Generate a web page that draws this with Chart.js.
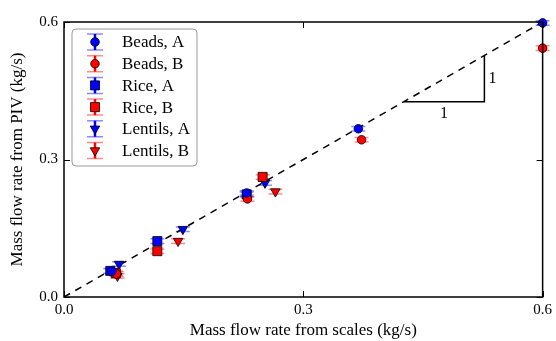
<!DOCTYPE html>
<html>
<head>
<meta charset="utf-8">
<script src="https://cdn.jsdelivr.net/npm/chart.js@4.4.0/dist/chart.umd.min.js"></script>
<style>
  html, body { margin: 0; padding: 0; background: #fff; }
  #wrap { width: 556px; height: 341px; }
</style>
</head>
<body>
<div id="wrap"><canvas id="flowChart" width="556" height="341"></canvas></div>
<script>
const beadsA = [[0.060, 0.056], [0.229, 0.227], [0.369, 0.367], [0.600, 0.598]];
const beadsB = [[0.066, 0.050], [0.230, 0.214], [0.373, 0.343], [0.600, 0.543]];
const riceA = [[0.058, 0.057], [0.117, 0.122], [0.229, 0.224]];
const riceB = [[0.065, 0.052], [0.117, 0.100], [0.249, 0.262]];
const lentilsA = [[0.069, 0.072], [0.149, 0.148], [0.252, 0.249]];
const lentilsB = [[0.067, 0.046], [0.143, 0.122], [0.265, 0.230]];
const yErr = 0.005;

// 1:1 reference line and slope triangle
const diagonal = [0, 0.6];
const slopeTri = [[0.426, 0.426], [0.527, 0.426], [0.527, 0.527]];
const slopeLabels = ['1', '1'];

const tickValues = [0, 0.3, 0.6];
const FONT = "'Liberation Serif', 'DejaVu Serif', serif";
const BLUE = '#0000ff';
const RED = '#ff0000';

function toPoints(arr) {
  return arr.map(p => ({ x: p[0], y: p[1] }));
}

function series(label, arr, color, shape, radius, rotation) {
  return {
    label: label,
    data: toPoints(arr),
    showLine: false,
    backgroundColor: color,
    borderColor: '#000',
    borderWidth: 0.8,
    pointStyle: shape,
    pointRadius: radius,
    pointRotation: rotation || 0,
    mainColor: color,
    errColor: color === BLUE ? 'rgba(0,0,255,0.45)' : 'rgba(255,0,0,0.45)'
  };
}

const dataSets = [
  series('Beads, A', beadsA, BLUE, 'circle', 4.3),
  series('Beads, B', beadsB, RED, 'circle', 4.3),
  series('Rice, A', riceA, BLUE, 'rect', 6.4),
  series('Rice, B', riceB, RED, 'rect', 6.4),
  series('Lentils, A', lentilsA, BLUE, 'triangle', 5.5, 180),
  series('Lentils, B', lentilsB, RED, 'triangle', 5.5, 180)
];

// Draw the error bars under the markers
const errorBars = {
  id: 'errorBars',
  beforeDatasetsDraw(chart) {
    const ctx = chart.ctx;
    const xs = chart.scales.x, ys = chart.scales.y;
    ctx.save();
    ctx.lineWidth = 1.5;
    chart.data.datasets.forEach(ds => {
      if (!ds.errColor) return;
      ctx.strokeStyle = ds.errColor;
      ds.data.forEach(p => {
        const px = xs.getPixelForValue(p.x);
        const top = ys.getPixelForValue(p.y + yErr);
        const bot = ys.getPixelForValue(p.y - yErr);
        ctx.beginPath();
        ctx.moveTo(px, top); ctx.lineTo(px, bot);
        ctx.moveTo(px - 7, top); ctx.lineTo(px + 7, top);
        ctx.moveTo(px - 7, bot); ctx.lineTo(px + 7, bot);
        ctx.stroke();
      });
    });
    ctx.restore();
  }
};

// Frame, inward ticks, slope labels and the boxed legend
const decorations = {
  id: 'decorations',
  afterDraw(chart) {
    const ctx = chart.ctx;
    const a = chart.chartArea;
    const xs = chart.scales.x, ys = chart.scales.y;
    ctx.save();
    ctx.strokeStyle = '#000';
    ctx.lineWidth = 1.5;
    ctx.strokeRect(a.left, a.top, a.right - a.left, a.bottom - a.top);
    ctx.lineWidth = 1;
    tickValues.forEach(v => {
      const px = Math.round(xs.getPixelForValue(v)) + 0.5;
      const py = Math.round(ys.getPixelForValue(v)) + 0.5;
      ctx.beginPath();
      ctx.moveTo(px, a.bottom); ctx.lineTo(px, a.bottom - 6);
      ctx.moveTo(px, a.top); ctx.lineTo(px, a.top + 6);
      ctx.moveTo(a.left, py); ctx.lineTo(a.left + 6, py);
      ctx.moveTo(a.right, py); ctx.lineTo(a.right - 6, py);
      ctx.stroke();
    });

    // slope labels
    ctx.fillStyle = '#000';
    ctx.font = '16px ' + FONT;
    ctx.textAlign = 'center';
    ctx.textBaseline = 'middle';
    const midX = (slopeTri[0][0] + slopeTri[1][0]) / 2;
    ctx.fillText(slopeLabels[0], xs.getPixelForValue(midX), ys.getPixelForValue(slopeTri[0][1]) + 12);
    const midY = (slopeTri[1][1] + slopeTri[2][1]) / 2;
    ctx.textAlign = 'left';
    ctx.fillText(slopeLabels[1], xs.getPixelForValue(slopeTri[1][0]) + 4, ys.getPixelForValue(midY));

    // legend box
    const bx = a.left + 8, by = a.top + 7, bw = 125, bh = 137;
    ctx.beginPath();
    ctx.roundRect(bx, by, bw, bh, 4);
    ctx.fillStyle = '#fff';
    ctx.fill();
    ctx.strokeStyle = '#999';
    ctx.lineWidth = 1;
    ctx.stroke();
    const entries = chart.data.datasets.filter(ds => ds.errColor);
    entries.forEach((ds, i) => {
      const cy = by + 13 + i * 21.7;
      const mx = bx + 23;
      ctx.strokeStyle = ds.errColor;
      ctx.lineWidth = 1.5;
      ctx.beginPath();
      ctx.moveTo(mx - 8, cy - 8); ctx.lineTo(mx + 8, cy - 8);
      ctx.moveTo(mx - 8, cy + 8); ctx.lineTo(mx + 8, cy + 8);
      ctx.stroke();
      ctx.strokeStyle = ds.mainColor;
      ctx.lineWidth = 2.5;
      ctx.beginPath();
      ctx.moveTo(mx, cy - 8); ctx.lineTo(mx, cy + 8);
      ctx.stroke();
      ctx.fillStyle = ds.backgroundColor;
      ctx.strokeStyle = '#000';
      ctx.lineWidth = 0.8;
      Chart.helpers.drawPoint(ctx, {
        pointStyle: ds.pointStyle,
        rotation: ds.pointRotation,
        radius: ds.pointRadius,
        borderWidth: 0.8
      }, mx, cy);
      ctx.fillStyle = '#000';
      ctx.font = '17px ' + FONT;
      ctx.textAlign = 'left';
      ctx.textBaseline = 'middle';
      ctx.fillText(ds.label, bx + 50, cy + 1);
    });
    ctx.restore();
  }
};

const lineSets = [
  {
    label: 'diagonal',
    data: diagonal.map(v => ({ x: v, y: v })),
    showLine: true,
    borderColor: '#000',
    borderWidth: 1.5,
    borderDash: [7, 6],
    pointRadius: 0,
    order: 10
  },
  {
    label: 'slope',
    data: toPoints(slopeTri),
    showLine: true,
    borderColor: '#000',
    borderWidth: 1.5,
    pointRadius: 0,
    order: 10
  }
];

new Chart(document.getElementById('flowChart').getContext('2d'), {
  type: 'scatter',
  data: { datasets: lineSets.concat(dataSets) },
  plugins: [errorBars, decorations],
  options: {
    responsive: false,
    animation: false,
    clip: false,
    layout: { padding: { top: 22, right: 11, left: 0, bottom: 0 } },
    plugins: { legend: { display: false }, tooltip: { enabled: false } },
    scales: {
      x: {
        type: 'linear',
        min: 0, max: 0.6,
        afterBuildTicks: s => { s.ticks = tickValues.map(v => ({ value: v })); },
        afterFit: s => { s.height = 44; },
        grid: { display: false, drawTicks: false },
        border: { display: false },
        ticks: {
          color: '#000', padding: 4,
          font: { family: FONT, size: 15 },
          callback: v => v.toFixed(1)
        },
        title: {
          display: true, text: 'Mass flow rate from scales (kg/s)',
          color: '#000', font: { family: FONT, size: 17 },
          padding: { top: 0, bottom: 0 }
        }
      },
      y: {
        type: 'linear',
        min: 0, max: 0.6,
        afterBuildTicks: s => { s.ticks = tickValues.map(v => ({ value: v })); },
        afterFit: s => { s.width = 64; },
        grid: { display: false, drawTicks: false },
        border: { display: false },
        ticks: {
          color: '#000', padding: 6,
          font: { family: FONT, size: 15 },
          callback: v => v.toFixed(1)
        },
        title: {
          display: true, text: 'Mass flow rate from PIV (kg/s)',
          color: '#000', font: { family: FONT, size: 17 },
          padding: { top: 7, bottom: 0 }
        }
      }
    }
  }
});
</script>
</body>
</html>
